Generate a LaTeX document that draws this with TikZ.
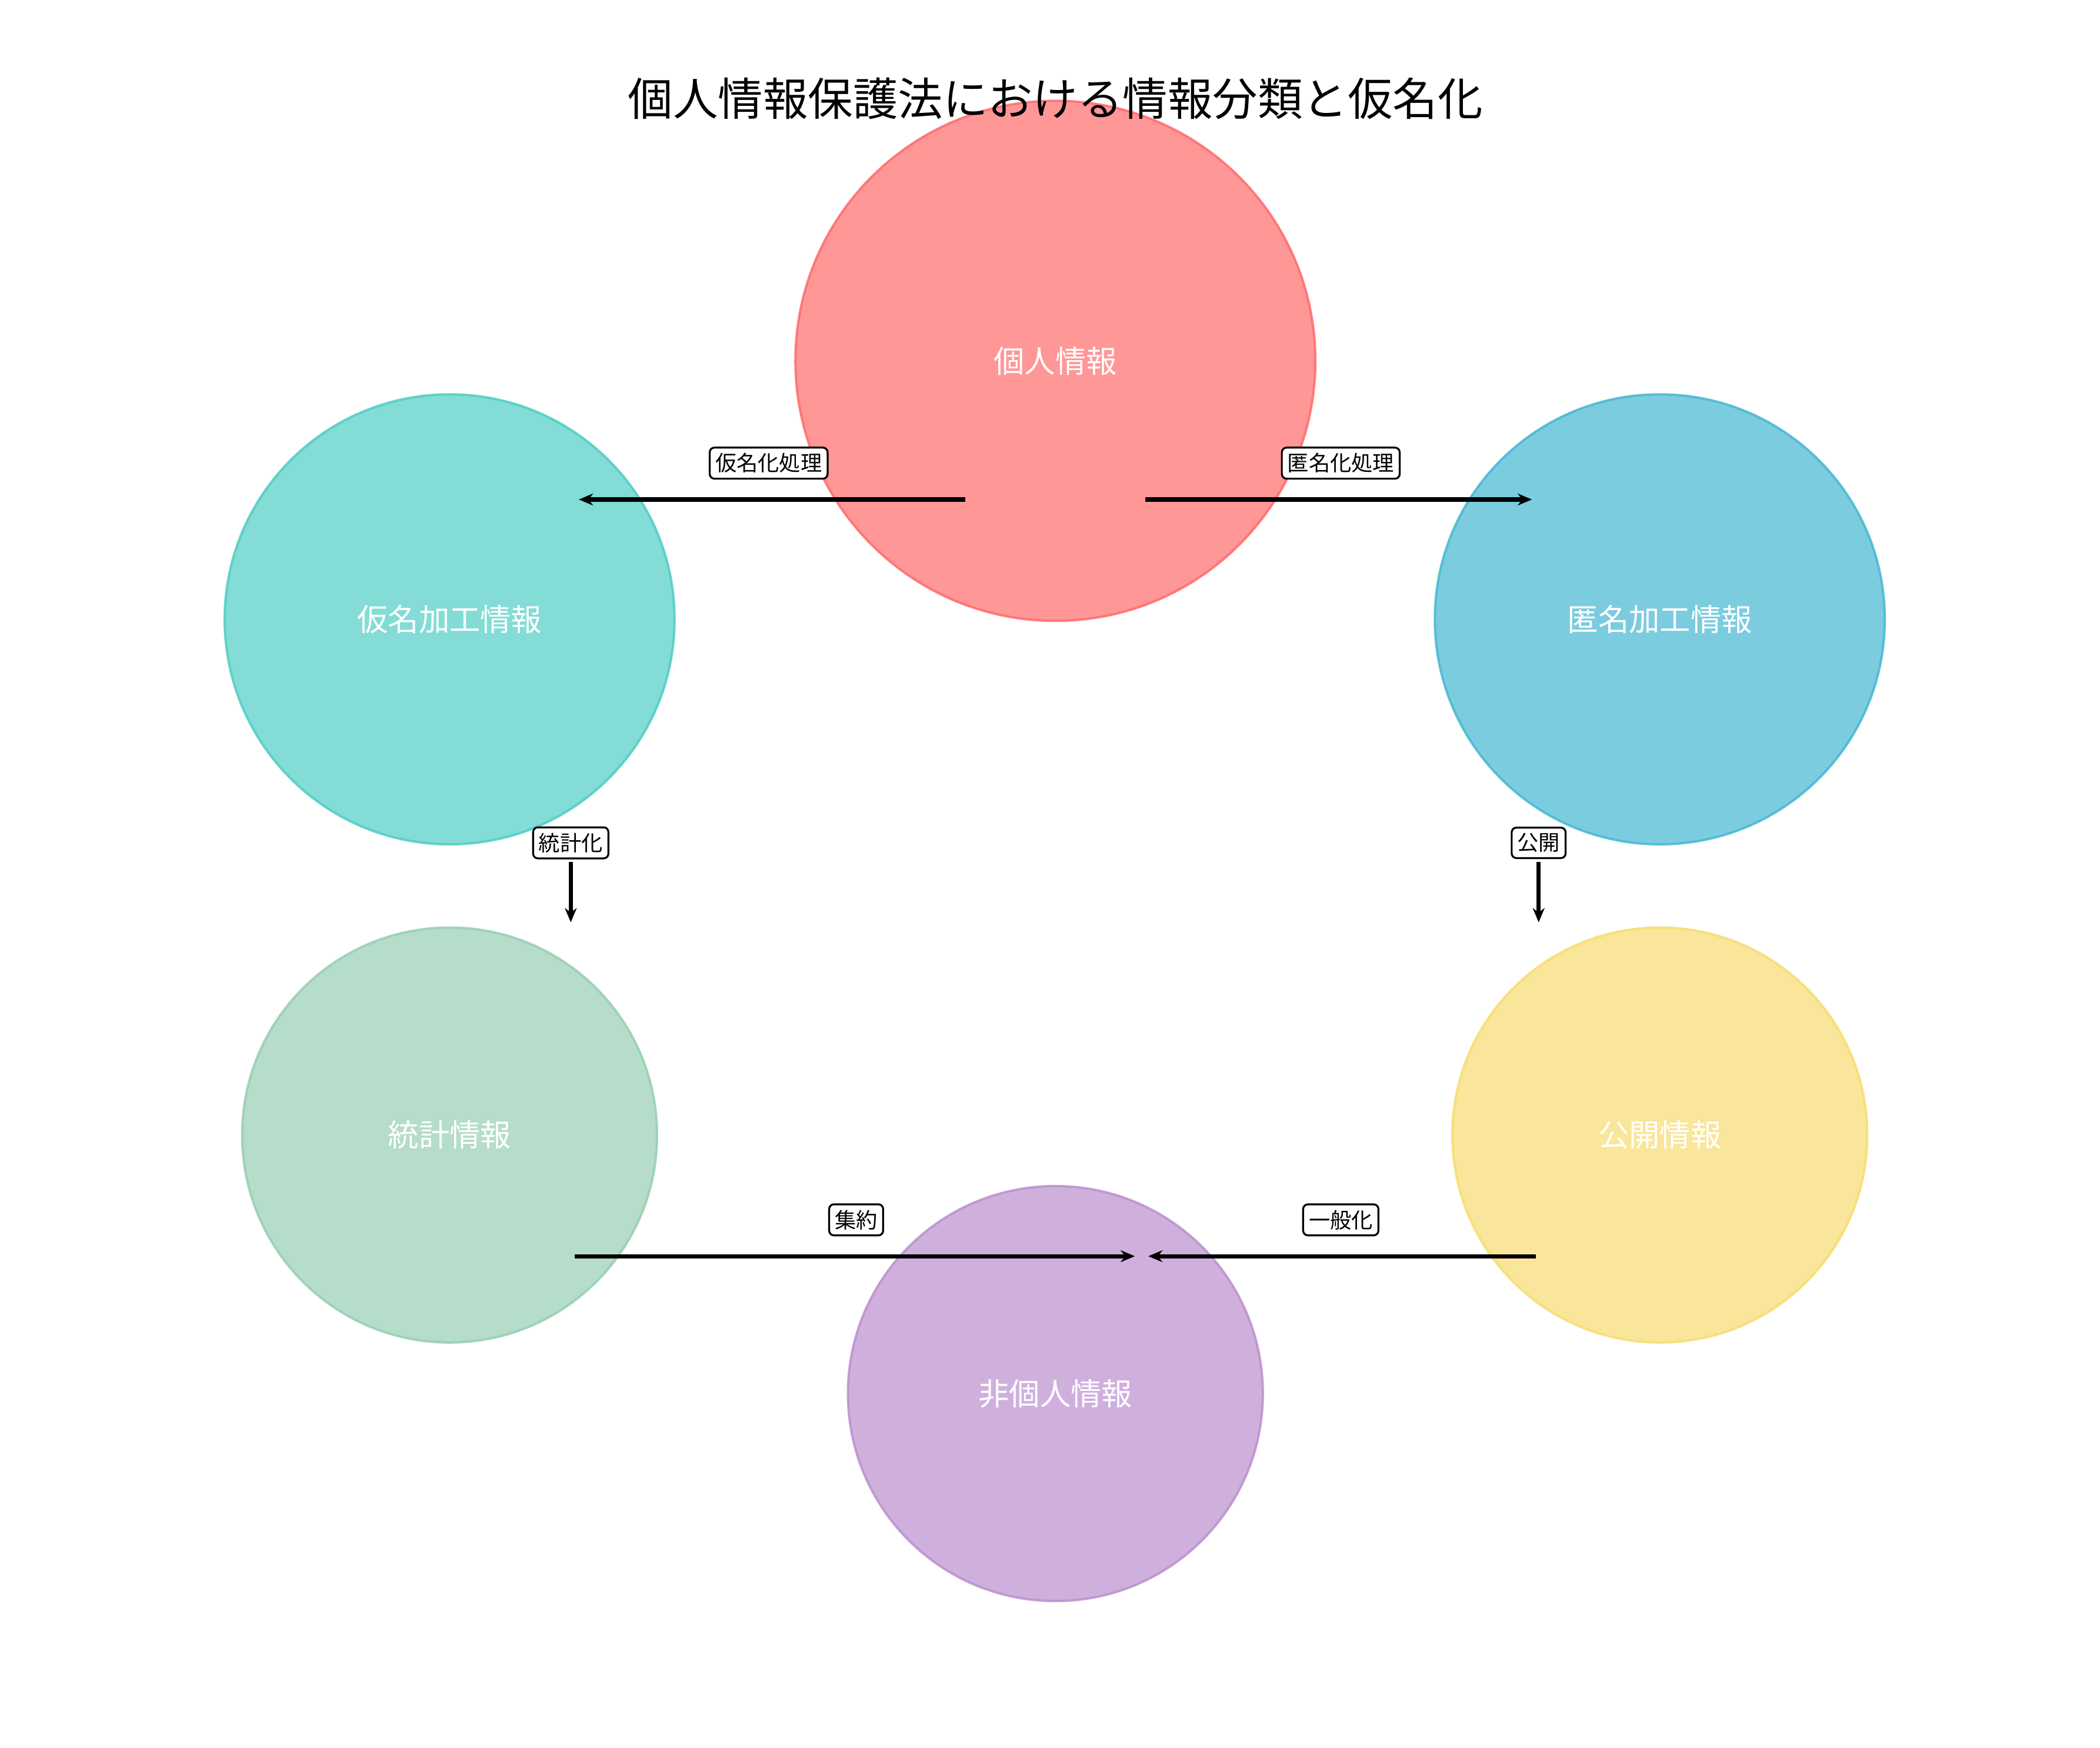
\documentclass[tikz,border=0pt]{standalone}
\usepackage{fontspec}
\setmainfont{Noto Sans CJK JP}
\usetikzlibrary{arrows.meta}
\definecolor{cpers}{HTML}{FF6B6B}
\definecolor{cpseu}{HTML}{4ECDC4}
\definecolor{canon}{HTML}{45B7D1}
\definecolor{cstat}{HTML}{96CEB4}
\definecolor{cpub}{HTML}{F7DC6F}
\definecolor{cnon}{HTML}{BB8FCE}
\tikzset{
  infocirc/.style={circle,draw=#1,fill=#1,fill opacity=0.7,draw opacity=0.85,line width=0.5pt,
    text=white,text opacity=1,inner sep=0pt,font=\fontsize{6.5}{7}\selectfont},
  steplabel/.style={draw=black,fill=white,rounded corners=1pt,inner sep=1.2pt,line width=0.4pt,
    font=\fontsize{4.5}{5}\selectfont},
  flow/.style={-{Stealth[length=3pt,width=2.5pt]},line width=0.9pt}
}
\begin{document}
\begin{tikzpicture}[x=0.01cm,y=-0.01cm]
  \useasboundingbox (0,0) rectangle (1560,1298);
  % circles
  \node[infocirc=cpers,minimum size=3.86cm] (kojin) at (784,268) {個人情報};
  \node[infocirc=cpseu,minimum size=3.34cm] (kamei) at (334,460) {仮名加工情報};
  \node[infocirc=canon,minimum size=3.34cm] (tokumei) at (1233,460) {匿名加工情報};
  \node[infocirc=cstat,minimum size=3.08cm] (toukei) at (334,843) {統計情報};
  \node[infocirc=cpub,minimum size=3.08cm] (koukai) at (1233,843) {公開情報};
  \node[infocirc=cnon,minimum size=3.08cm] (hikojin) at (784,1035) {非個人情報};
  \node[font=\fontsize{9.5}{10}\selectfont] (title) at (784,73) {個人情報保護法における情報分類と仮名化};
  % arrow ends
  \coordinate (a1) at (717,371); \coordinate (b1) at (430,371);
  \coordinate (a2) at (851,371); \coordinate (b2) at (1138,371);
  \coordinate (a3) at (424,640); \coordinate (b3) at (424,685);
  \coordinate (a4) at (1143,640); \coordinate (b4) at (1143,685);
  \coordinate (a5) at (427,933); \coordinate (b5) at (843,933);
  \coordinate (a6) at (1141,933); \coordinate (b6) at (853,933);
  \draw[flow] (a1) -- (b1);
  \draw[flow] (a2) -- (b2);
  \draw[flow] (a3) -- (b3);
  \draw[flow] (a4) -- (b4);
  \draw[flow] (a5) -- (b5);
  \draw[flow] (a6) -- (b6);
  % labels
  \node[steplabel] (l1) at (571,344) {仮名化処理};
  \node[steplabel] (l2) at (996,344) {匿名化処理};
  \node[steplabel] (l3) at (424,626) {統計化};
  \node[steplabel] (l4) at (1143,626) {公開};
  \node[steplabel] (l5) at (636,906) {集約};
  \node[steplabel] (l6) at (996,906) {一般化};
\end{tikzpicture}
\end{document}
